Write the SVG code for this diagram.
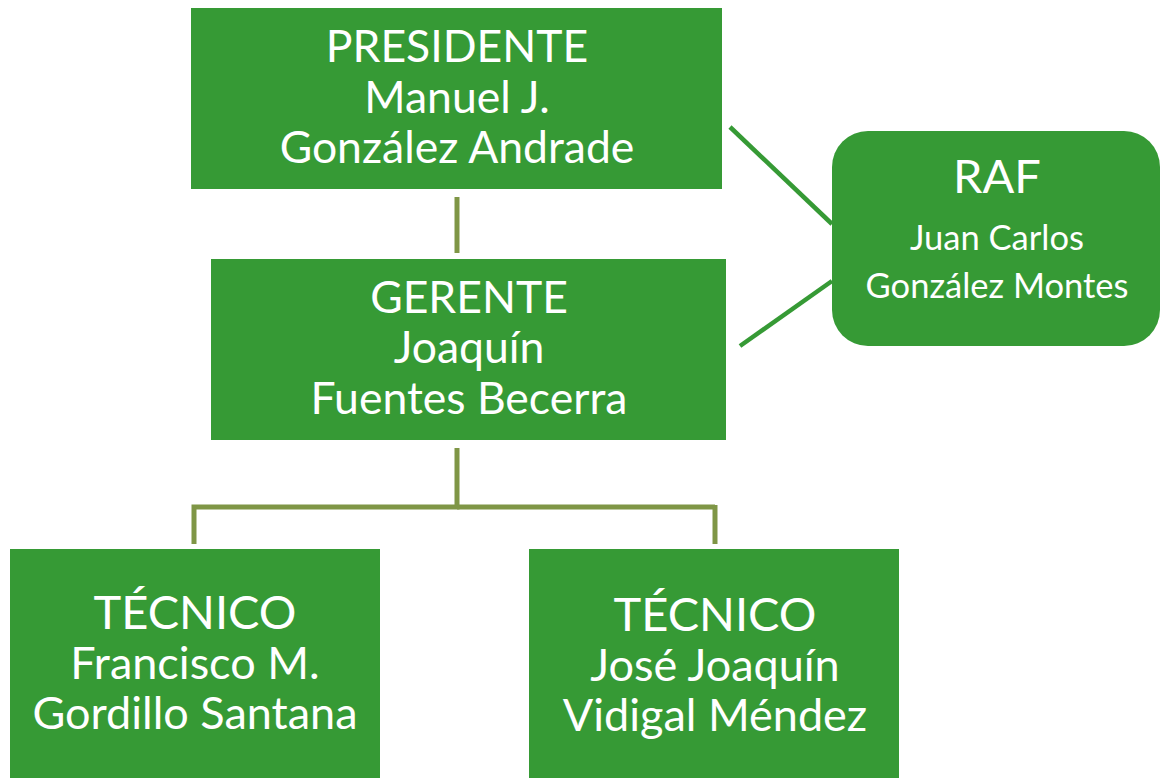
<svg xmlns="http://www.w3.org/2000/svg" width="1160" height="778" viewBox="0 0 1160 778">
<style>
.box{fill:#369a35}
.t{fill:#ffffff;font-family:Lato,"Open Sans","Liberation Sans",sans-serif;text-anchor:middle}
.olive{stroke:#7f9646;stroke-width:5;fill:none}
.green{stroke:#369a35;stroke-width:4.5;fill:none}
</style>
<rect width="1160" height="778" fill="#ffffff"/>
<g id="connectors">
<line class="olive" x1="457" y1="197" x2="457" y2="253"/>
<polyline class="olive" points="457,448 457,507 194,507 194,544"/>
<line class="olive" x1="457" y1="507" x2="715" y2="507"/>
<line class="olive" x1="715" y1="505" x2="715" y2="544"/>
<line class="green" x1="730" y1="127" x2="832" y2="224"/>
<line class="green" x1="740" y1="346" x2="832" y2="281"/>
</g>
<g id="presidente">
<rect class="box" x="191" y="8" width="531" height="181"/>
<text class="t" font-size="44.5" x="457" y="62">PRESIDENTE</text>
<text class="t" font-size="44.5" x="457" y="113">Manuel J.</text>
<text class="t" font-size="44.5" x="457" y="163">González Andrade</text>
</g>
<g id="gerente">
<rect class="box" x="211" y="259" width="515" height="181"/>
<text class="t" font-size="44.5" x="469" y="313">GERENTE</text>
<text class="t" font-size="44.5" x="469" y="363">Joaquín</text>
<text class="t" font-size="44.5" x="469" y="414">Fuentes Becerra</text>
</g>
<g id="raf">
<rect class="box" x="832" y="131" width="328" height="215" rx="36" ry="36"/>
<text class="t" font-size="47" x="997" y="193">RAF</text>
<text class="t" font-size="34.5" x="997" y="250">Juan Carlos</text>
<text class="t" font-size="34.5" x="997" y="298">González Montes</text>
</g>
<g id="tecnico1">
<rect class="box" x="10" y="549" width="370" height="229"/>
<text class="t" font-size="47" x="195" y="629">TÉCNICO</text>
<text class="t" font-size="45" x="195" y="679">Francisco M.</text>
<text class="t" font-size="45" x="195" y="729">Gordillo Santana</text>
</g>
<g id="tecnico2">
<rect class="box" x="529" y="549" width="370" height="229"/>
<text class="t" font-size="47" x="715" y="631">TÉCNICO</text>
<text class="t" font-size="45" x="715" y="681">José Joaquín</text>
<text class="t" font-size="45" x="715" y="731">Vidigal Méndez</text>
</g>
</svg>
